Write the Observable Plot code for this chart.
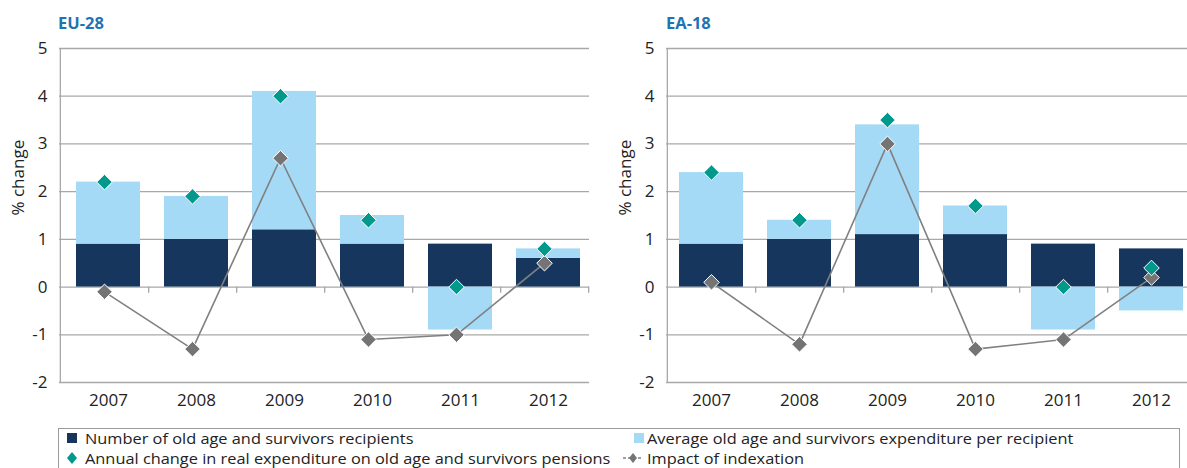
<!DOCTYPE html>
<html>
<head>
<meta charset="utf-8">
<script src="https://cdn.jsdelivr.net/npm/d3@7"></script>
<script src="https://cdn.jsdelivr.net/npm/@observablehq/plot@0.6"></script>
<style>
  html, body { margin: 0; padding: 0; background: #fff; }
  body { width: 1187px; height: 468px; overflow: hidden; position: relative; font-family: "Open Sans", sans-serif; }
  .title { position: absolute; top: 11px; font-weight: 700; font-size: 16.5px; color: #1f73b2; font-family: "Open Sans", sans-serif; }
  .panel { position: absolute; top: 0; width: 600px; height: 420px; }
  .panel svg { max-width: none !important; }
  #legend { position: absolute; left: 58px; top: 428px; width: 1122px; height: 60px; border: 1px solid #9a9a9a; box-sizing: border-box; }
  .li { position: absolute; font-size: 15px; color: #222; white-space: nowrap; line-height: 20px; transform: scaleX(1.09); transform-origin: 0 50%; }
  .sw { position: absolute; }
</style>
</head>
<body>
<div class="title" style="left:58px">EU-28</div>
<div class="title" style="left:666px">EA-18</div>
<div class="panel" id="p1" style="left:0px"></div>
<div class="panel" id="p2" style="left:600px"></div>
<div id="legend"></div>
<script>
// ---- data ----
const years = ["2007", "2008", "2009", "2010", "2011", "2012"];
const yTicks = [-2, -1, 0, 1, 2, 3, 4, 5];

// EU-28
const euRecipients  = [0.9, 1.0, 1.2, 0.9, 0.9, 0.6];
const euExpenditure = [1.3, 0.9, 2.9, 0.6, -0.9, 0.2];
const euAnnual      = [2.2, 1.9, 4.0, 1.4, 0.0, 0.8];
const euIndexation  = [-0.1, -1.3, 2.7, -1.1, -1.0, 0.5];

// EA-18
const eaRecipients  = [0.9, 1.0, 1.1, 1.1, 0.9, 0.8];
const eaExpenditure = [1.5, 0.4, 2.3, 0.6, -0.9, -0.5];
const eaAnnual      = [2.4, 1.4, 3.5, 1.7, 0.0, 0.4];
const eaIndexation  = [0.1, -1.2, 3.0, -1.3, -1.1, 0.2];

const seriesNames = ["Number of old age and survivors recipients", "Average old age and survivors expenditure per recipient"];
const legendLabels = [
  "Number of old age and survivors recipients",
  "Average old age and survivors expenditure per recipient",
  "Annual change in real expenditure on old age and survivors pensions",
  "Impact of indexation"
];

const colDark = "#17365d";
const colLight = "#a5daf6";
const colTeal = "#00998c";
const colGray = "#747474";
const colLine = "#808080";
const colGrid = "#a8a8a8";

function makeChart(recip, expend, annual, index, marginLeft, marginRight, barShift) {
  const width = 600, height = 420;
  const plotW = width - marginLeft - marginRight;
  const half = plotW / years.length / 2;
  const bars = [];
  years.forEach((y, i) => {
    bars.push({year: y, series: seriesNames[0], value: recip[i]});
    bars.push({year: y, series: seriesNames[1], value: expend[i]});
  });
  const pts = years.map((y, i) => ({year: y, annual: annual[i], index: index[i]}));
  return Plot.plot({
    width, height,
    marginTop: 48, marginBottom: 38, marginLeft, marginRight,
    style: {fontFamily: "Open Sans, sans-serif", fontSize: "17px", color: "#222"},
    x: {domain: years, paddingInner: 0.275, paddingOuter: 0.1375, label: null},
    y: {domain: [-2, 5], label: null},
    color: {domain: seriesNames, range: [colDark, colLight]},
    marks: [
      Plot.ruleY(yTicks, {stroke: colGrid, strokeWidth: 1.3}),
      Plot.barY(bars, {x: "year", y: "value", fill: "series", order: seriesNames, dx: barShift}),
      Plot.ruleX(years, {x: d => d, y1: 0, y2: -0.13, dx: half, stroke: colGrid, strokeWidth: 1.3}),
      Plot.ruleX([years[0]], {x: d => d, y1: -2, y2: 5, dx: -half, stroke: colGrid, strokeWidth: 1.3}),
      Plot.axisY({ticks: yTicks, tickSize: 0, tickPadding: 12, tickFormat: d => String(d).replace("−", "-"), label: null}),
      Plot.axisX({tickSize: 0, tickPadding: 11, dx: barShift, label: null}),
      Plot.text(["% change"], {frameAnchor: "left", dx: -41, rotate: -90, fontSize: 17}),
      Plot.line(pts, {x: "year", y: "index", stroke: colLine, strokeWidth: 1.6}),
      Plot.dot(pts, {x: "year", y: "index", symbol: "diamond2", r: 7, fill: colGray, stroke: "#fff", strokeWidth: 1}),
      Plot.dot(pts, {x: "year", y: "annual", symbol: "diamond2", r: 7, fill: colTeal, stroke: "#fff", strokeWidth: 1})
    ]
  });
}

document.getElementById("p1").appendChild(makeChart(euRecipients, euExpenditure, euAnnual, euIndexation, 59, 11, 4));
document.getElementById("p2").appendChild(makeChart(eaRecipients, eaExpenditure, eaAnnual, eaIndexation, 66, 4, 0));

// ---- legend ----
const leg = document.getElementById("legend");
function item(x, y, label, swatchHtml) {
  const d = document.createElement("div");
  d.className = "li";
  d.style.left = x + "px"; d.style.top = y + "px";
  d.textContent = label;
  leg.appendChild(d);
  leg.insertAdjacentHTML("beforeend", swatchHtml);
}
item(26, -1, legendLabels[0], `<div class="sw" style="left:8px;top:4px;width:10px;height:10px;background:${colDark}"></div>`);
item(588, -1, legendLabels[1], `<div class="sw" style="left:575px;top:4px;width:10px;height:10px;background:${colLight}"></div>`);
item(26, 19, legendLabels[2], `<svg class="sw" style="left:7px;top:22px" width="12" height="14"><path d="M6 1 L11 7 L6 13 L1 7 Z" fill="${colTeal}"/></svg>`);
item(588, 19, legendLabels[3], `<svg class="sw" style="left:563px;top:22px" width="22" height="14"><line x1="1" y1="7" x2="21" y2="7" stroke="${colLine}" stroke-width="1.5" stroke-dasharray="3 2"/><path d="M11 2 L15 7 L11 12 L7 7 Z" fill="${colGray}"/></svg>`);
</script>
</body>
</html>
